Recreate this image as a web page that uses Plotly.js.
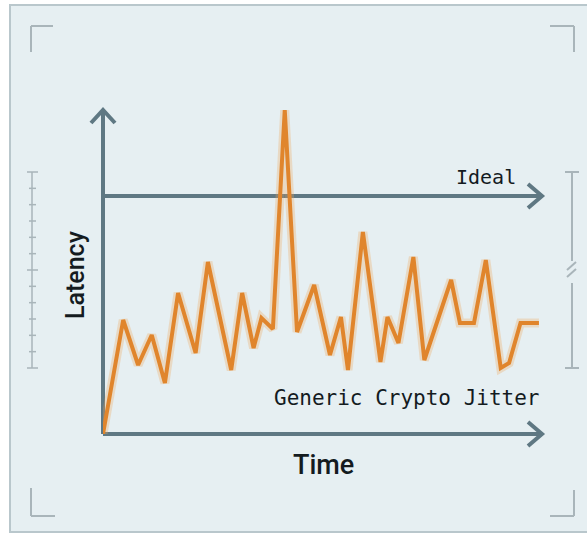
<!DOCTYPE html>
<html>
<head>
<meta charset="utf-8">
<script src="https://cdn.plot.ly/plotly-3.0.1.min.js"></script>
<style>html,body{margin:0;padding:0;background:#ffffff;}#chart{width:587px;height:535px;}</style>
</head>
<body>
<div id="chart"></div>
<script>
// ---- data ----
var time = [0, 4.6, 8.0, 11.1, 14.1, 17.1, 21.1, 23.9, 29.2, 31.7, 34.3, 36.1, 38.7, 41.4, 44.2, 48.1, 51.7, 54.2, 55.8, 59.2, 63.2, 64.8, 67.3, 70.7, 73.2, 79.3, 81.3, 84.5, 87.2, 90.6, 92.5, 95.1, 99.3];
var latency = [0, 114, 69, 99, 51, 141, 81, 172, 64, 141, 86, 116, 105, 324, 102, 149, 79, 117, 64, 202, 72, 117, 91, 177, 74, 154, 111, 111, 174, 66, 71, 111, 111];
var idealLatency = 238;
var xLabel = "Time";
var yLabel = "Latency";
var idealLabel = "Ideal";
var seriesLabel = "Generic Crypto Jitter";

// ---- layout geometry ----
var W = 587, H = 535;
var M = {l: 103, r: 45, t: 110, b: 101};
var PW = W - M.l - M.r, PH = H - M.t - M.b;
function px(x) { return (x - M.l) / PW; }
function py(y) { return (H - M.b - y) / PH; }

var axisCol = '#5f7883';
var decoCol = '#a9b5ba';
var orange = '#e0852c';
var textCol = '#141b1f';

var shapes = [];
// background panel and border
shapes.push({type: 'rect', xref: 'paper', yref: 'paper', x0: px(10), x1: px(600), y0: py(5), y1: py(532),
  fillcolor: '#e6eff2', line: {color: '#b9c7cc', width: 2}, layer: 'below'});
// corner marks
function seg(x0, y0, x1, y1, col, w) {
  shapes.push({type: 'line', xref: 'paper', yref: 'paper', x0: px(x0), y0: py(y0), x1: px(x1), y1: py(y1),
    line: {color: col, width: w}, layer: 'below'});
}
seg(31, 26, 53, 26, decoCol, 2); seg(31, 26, 31, 52, decoCol, 2);
seg(550, 26, 574, 26, decoCol, 2); seg(574, 26, 574, 52, decoCol, 2);
seg(31, 488, 31, 516, decoCol, 2); seg(31, 516, 55, 516, decoCol, 2);
seg(574, 490, 574, 516, decoCol, 2); seg(550, 516, 574, 516, decoCol, 2);
// left ruler
seg(32, 172, 32, 368, decoCol, 1.5);
for (var i = 0; i <= 12; i++) {
  var yy = 172 + i * (196 / 12);
  var major = (i % 6 === 0);
  seg(major ? 27 : 29, yy, major ? 38 : 36, yy, decoCol, 1.5);
}
// right ruler with break
seg(572, 172, 572, 261, decoCol, 2);
seg(572, 283, 572, 368, decoCol, 2);
seg(565, 172, 579, 172, decoCol, 2);
seg(565, 368, 579, 368, decoCol, 2);
seg(567, 270, 576, 262, decoCol, 2);
seg(567, 277, 576, 269, decoCol, 2);

// axes and arrows (paper coords)
function aline(x0, y0, x1, y1) {
  shapes.push({type: 'line', xref: 'paper', yref: 'paper', x0: px(x0), y0: py(y0), x1: px(x1), y1: py(y1),
    line: {color: axisCol, width: 4}, layer: 'below'});
}
function chevron(pts) {
  var d = 'M' + pts.map(function (p) { return px(p[0]) + ',' + py(p[1]); }).join(' L');
  shapes.push({type: 'path', xref: 'paper', yref: 'paper', path: d,
    line: {color: axisCol, width: 4}, layer: 'below'});
}
aline(103, 434, 541, 434);
chevron([[528, 422], [542, 434], [528, 446]]);
aline(103, 434, 103, 111);
chevron([[91, 123], [103, 110], [115, 123]]);
// ideal line (data coords)
shapes.push({type: 'line', xref: 'x', yref: 'y', x0: 0, x1: 100, y0: idealLatency, y1: idealLatency,
  line: {color: axisCol, width: 4}, layer: 'below'});
chevron([[528, 184], [542, 196], [528, 208]]);

var traces = [
  {x: time, y: latency, type: 'scatter', mode: 'lines', hoverinfo: 'skip', showlegend: false,
   line: {color: 'rgba(240,165,90,0.30)', width: 9}, cliponaxis: false},
  {x: time, y: latency, type: 'scatter', mode: 'lines', name: seriesLabel, showlegend: false,
   line: {color: orange, width: 4}, cliponaxis: false}
];

var annotations = [
  {text: yLabel, xref: 'paper', yref: 'paper', x: px(75), y: py(275), xanchor: 'center', yanchor: 'middle',
   textangle: -90, showarrow: false,
   font: {family: 'Roboto, "DejaVu Sans", sans-serif', size: 25, weight: 500, color: textCol}},
  {text: xLabel, xref: 'paper', yref: 'paper', x: px(323), y: py(465), xanchor: 'center', yanchor: 'middle',
   showarrow: false,
   font: {family: 'Roboto, "DejaVu Sans", sans-serif', size: 27, weight: 500, color: textCol}},
  {text: idealLabel, xref: 'paper', yref: 'paper', x: px(518), y: py(177), xanchor: 'right', yanchor: 'middle',
   showarrow: false,
   font: {family: '"DejaVu Sans Mono", "Liberation Mono", monospace', size: 20, color: textCol}},
  {text: seriesLabel, xref: 'paper', yref: 'paper', x: px(542), y: py(398), xanchor: 'right', yanchor: 'middle',
   showarrow: false,
   font: {family: '"DejaVu Sans Mono", "Liberation Mono", monospace', size: 21, color: textCol}}
];

var layout = {
  width: W, height: H,
  margin: M,
  paper_bgcolor: '#ffffff',
  plot_bgcolor: 'rgba(0,0,0,0)',
  showlegend: false,
  xaxis: {range: [0, 100], showgrid: false, zeroline: false, showline: false, showticklabels: false, ticks: '', fixedrange: true},
  yaxis: {range: [0, PH], showgrid: false, zeroline: false, showline: false, showticklabels: false, ticks: '', fixedrange: true},
  shapes: shapes,
  annotations: annotations
};

Plotly.newPlot('chart', traces, layout, {displayModeBar: false, staticPlot: true});
</script>
</body>
</html>
